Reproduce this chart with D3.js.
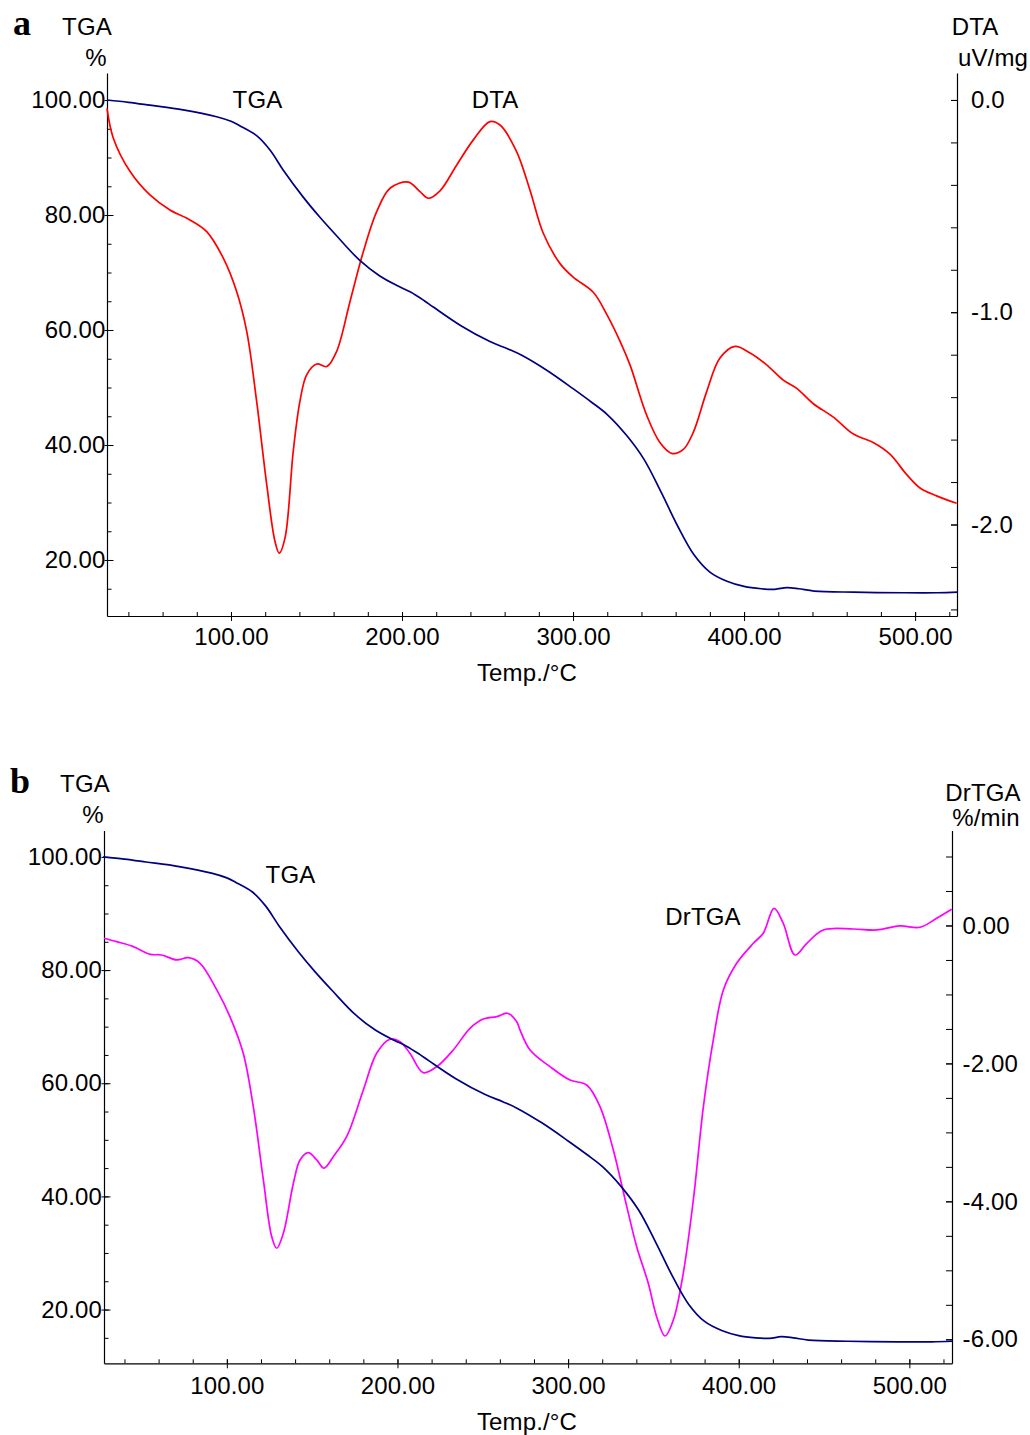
<!DOCTYPE html>
<html>
<head>
<meta charset="utf-8">
<script src="https://cdn.jsdelivr.net/npm/d3@7/dist/d3.min.js"></script>
<style>
  html, body { margin: 0; padding: 0; background: #fff; }
  svg { display: block; }
</style>
</head>
<body>
<svg id="chart" width="1030" height="1435"></svg>
<script>
// ---------- DATA ----------
// TGA curve (same sample, shown in both panels): temperature (°C) and mass (%)
const tgaTemp = [27.5, 40, 52.6, 72, 91.6, 100, 105.3, 115, 122.8, 130.6, 142, 152, 162, 175, 187, 198, 205, 213, 218.3, 234.2, 251.4, 262, 270, 284.6, 300, 311, 320, 331.5, 341.5, 351.5, 361, 370.5, 380, 390, 400, 410, 418, 425, 432, 441, 464, 493, 513, 525];
const tgaMass = [100.0, 99.6, 99.1, 98.3, 97.1, 96.3, 95.5, 93.8, 91.3, 87.8, 83.2, 79.6, 76.3, 72.2, 69.4, 67.6, 66.6, 65.1, 64.0, 60.8, 58.0, 56.7, 55.6, 53.0, 49.8, 47.4, 45.3, 41.6, 37.5, 31.8, 26.0, 21.0, 17.9, 16.3, 15.4, 15.0, 14.9, 15.2, 15.0, 14.6, 14.4, 14.3, 14.3, 14.4];

// DTA curve (panel a): temperature (°C) and signal (uV/mg)
const dtaTemp = [27.5, 31.2, 41.0, 52.6, 64.3, 76.0, 85.8, 95.5, 103.3, 109.2, 115.0, 120.9, 125.7, 128.2, 131.6, 136.4, 140.3, 144.3, 150.1, 156.0, 161.8, 169.6, 177.4, 185.2, 193.0, 203.7, 210.5, 215.4, 222.2, 232.0, 241.7, 251.4, 257.3, 267.0, 275.0, 282.6, 292.4, 300.1, 311.8, 319.7, 327.5, 333.3, 343.1, 350.8, 357.7, 364.5, 370.3, 378.1, 385.9, 394.7, 403.5, 413.2, 422.9, 430.8, 440.5, 452.2, 463.9, 475.5, 485.3, 495.1, 502.9, 512.6, 524.3];
const dtaValue = [-0.04, -0.18, -0.337, -0.447, -0.518, -0.565, -0.62, -0.745, -0.902, -1.09, -1.42, -1.812, -2.079, -2.135, -2.063, -1.655, -1.42, -1.294, -1.244, -1.256, -1.184, -0.949, -0.714, -0.526, -0.416, -0.387, -0.432, -0.463, -0.428, -0.306, -0.188, -0.102, -0.118, -0.243, -0.43, -0.628, -0.771, -0.835, -0.906, -1.01, -1.137, -1.248, -1.486, -1.614, -1.665, -1.646, -1.566, -1.375, -1.216, -1.161, -1.192, -1.248, -1.32, -1.359, -1.431, -1.494, -1.574, -1.614, -1.669, -1.765, -1.828, -1.865, -1.9];

// DrTGA curve (panel b): temperature (°C) and rate (%/min)
const drtgaTemp = [28.0, 35.4, 45.2, 55.0, 61.8, 70.6, 77.4, 84.3, 94.1, 101.8, 109.6, 115.5, 121.4, 126.3, 129.2, 133.1, 139.0, 142.9, 147.7, 152.7, 156.9, 162.4, 170.2, 180.0, 187.8, 195.6, 201.5, 207.3, 215.1, 223.0, 232.7, 242.5, 250.3, 258.2, 264.4, 269.9, 271.8, 277.7, 289.4, 301.1, 310.9, 318.7, 326.5, 334.4, 340.2, 347.0, 351.9, 356.8, 361.7, 367.5, 373.4, 379.3, 385.1, 391.0, 398.8, 408.6, 414.4, 420.7, 426.1, 433.0, 439.9, 449.6, 467.2, 480.9, 494.5, 506.3, 516.0, 524.8];
const drtgaValue = [-0.186, -0.235, -0.307, -0.418, -0.428, -0.5, -0.467, -0.548, -0.935, -1.322, -1.853, -2.627, -3.69, -4.512, -4.68, -4.463, -3.738, -3.4, -3.294, -3.4, -3.52, -3.352, -3.062, -2.385, -1.853, -1.65, -1.685, -1.853, -2.134, -2.047, -1.805, -1.491, -1.356, -1.322, -1.273, -1.395, -1.515, -1.805, -2.047, -2.241, -2.313, -2.627, -3.255, -4.077, -4.657, -5.188, -5.672, -5.952, -5.72, -5.043, -3.98, -2.627, -1.66, -0.935, -0.548, -0.258, -0.113, 0.249, 0.032, -0.428, -0.258, -0.065, -0.051, -0.065, -0.007, -0.026, 0.104, 0.235];

// Tick labels
const tempTickLabels = [100, 200, 300, 400, 500];
const massTickLabels = [20, 40, 60, 80, 100];
const dtaTickLabels = [0.0, -1.0, -2.0];
const drtgaTickLabels = [0, -2, -4, -6];

// ---------- DRAWING ----------
const svg = d3.select('#chart');
svg.append('rect').attr('width', 1030).attr('height', 1435).attr('fill', '#fff');
const FONT = '"Liberation Sans", Arial, Helvetica, sans-serif';
const FS = 24;
const LS = 0.15;

function zip(xs, ys) { return xs.map((t, i) => [t, ys[i]]); }
function fmt(spec) { const f = d3.format(spec); return d => f(d).replace('\u2212', '-'); }

function styleAxis(g) {
  g.attr('font-family', FONT).attr('font-size', FS);
  g.selectAll('path.domain').attr('stroke', '#000').attr('stroke-width', 1.2);
  g.selectAll('.tick line').attr('stroke', '#000').attr('stroke-width', 1);
  g.selectAll('.tick text').attr('fill', '#000').attr('letter-spacing', LS);
}

function drawPanel(cfg) {
  const g = svg.append('g');
  const x = d3.scaleLinear().domain(cfg.xDom).range([cfg.L, cfg.R]);
  const yL = d3.scaleLinear().domain(cfg.yLDom).range([cfg.B, cfg.T]);
  const yR = d3.scaleLinear().domain(cfg.yRDom).range([cfg.B, cfg.T]);

  // bottom axis: minor ticks
  g.append('g').attr('transform', `translate(0,${cfg.B})`)
    .call(d3.axisBottom(x).tickValues(d3.range(40, 521, 20)).tickSizeInner(-4).tickSizeOuter(0).tickFormat(''))
    .call(a => a.select('.domain').remove())
    .call(styleAxis);
  // bottom axis: major ticks + labels
  g.append('g').attr('transform', `translate(0,${cfg.B})`)
    .call(d3.axisBottom(x).tickValues(tempTickLabels).tickSizeInner(-4).tickSizeOuter(0).tickPadding(cfg.xPad).tickFormat(fmt('.2f')))
    .call(styleAxis)
    .call(a => a.selectAll('.tick line').attr('y1', 5));

  // left axis
  g.append('g').attr('transform', `translate(${cfg.L},0)`)
    .call(d3.axisLeft(yL).tickValues(d3.range(15, 101, 5)).tickSizeInner(-4.5).tickSizeOuter(0).tickFormat(''))
    .call(a => a.select('.domain').remove())
    .call(styleAxis);
  g.append('g').attr('transform', `translate(${cfg.L},0)`)
    .call(d3.axisLeft(yL).tickValues(massTickLabels).tickSizeInner(-6.5).tickSizeOuter(0).tickPadding(cfg.lPad).tickFormat(fmt('.2f')))
    .call(styleAxis)
    .call(a => a.selectAll('.tick line').attr('x1', -2.5));

  // right axis
  g.append('g').attr('transform', `translate(${cfg.R},0)`)
    .call(d3.axisRight(yR).tickValues(cfg.rMinor).tickSizeInner(-6).tickSizeOuter(0).tickFormat(''))
    .call(a => a.select('.domain').remove())
    .call(styleAxis);
  g.append('g').attr('transform', `translate(${cfg.R},0)`)
    .call(d3.axisRight(yR).tickValues(cfg.rLabels).tickSizeInner(-6).tickSizeOuter(0).tickPadding(cfg.rPad).tickFormat(fmt(cfg.rFmt)))
    .call(styleAxis);

  // curves
  const lineL = d3.line().x(d => x(d[0])).y(d => yL(d[1])).curve(d3.curveCatmullRom.alpha(0.5));
  const lineR = d3.line().x(d => x(d[0])).y(d => yR(d[1])).curve(d3.curveCatmullRom.alpha(0.5));
  g.append('path').datum(zip(cfg.rTemp, cfg.rVal)).attr('d', lineR)
    .attr('fill', 'none').attr('stroke', cfg.rColor).attr('stroke-width', 1.7);
  g.append('path').datum(zip(tgaTemp, tgaMass)).attr('d', lineL)
    .attr('fill', 'none').attr('stroke', '#000080').attr('stroke-width', 1.7);

  // texts
  const txt = (s, tx, ty, opts = {}) => g.append('text').text(s)
    .attr('x', tx).attr('y', ty)
    .attr('text-anchor', opts.anchor || 'middle')
    .attr('font-family', opts.family || FONT)
    .attr('font-size', opts.size || FS)
    .attr('font-weight', opts.weight || 'normal')
    .attr('letter-spacing', opts.ls !== undefined ? opts.ls : LS)
    .attr('fill', '#000');
  cfg.texts.forEach(t => txt(...t));
}

const serif = { anchor: 'start', family: '"Liberation Serif", "Times New Roman", serif', size: 36, weight: 'bold', ls: 0 };

drawPanel({
  L: 107, R: 957, T: 73, B: 616,
  xDom: [27.5, 524.5], yLDom: [10.26, 104.7], yRDom: [-2.431, 0.127],
  xPad: 12, lPad: 1.5, rPad: 14,
  rMinor: d3.range(-2.4, 0.01, 0.2), rLabels: dtaTickLabels, rFmt: '.1f',
  rTemp: dtaTemp, rVal: dtaValue, rColor: '#ff0000',
  texts: [
    ['a', 13, 35, serif],
    ['TGA', 87, 35], ['%', 96, 66],
    ['DTA', 975, 35], ['uV/mg', 993, 66],
    ['TGA', 257.5, 108], ['DTA', 495, 108],
    ['Temp./°C', 527, 681]
  ]
});

drawPanel({
  L: 104, R: 952, T: 830.5, B: 1363.3,
  xDom: [28, 525], yLDom: [10.5, 104.67], yRDom: [-6.348, 1.377],
  xPad: 13.5, lPad: 2, rPad: 10.5,
  rMinor: d3.range(-6, 1.01, 0.5), rLabels: drtgaTickLabels, rFmt: '.2f',
  rTemp: drtgaTemp, rVal: drtgaValue, rColor: '#ff00ff',
  texts: [
    ['b', 10, 793, serif],
    ['TGA', 85, 792], ['%', 93, 823],
    ['DrTGA', 983, 801], ['%/min', 986, 826],
    ['TGA', 290.5, 883], ['DrTGA', 703, 925],
    ['Temp./°C', 527, 1430]
  ]
});
</script>
</body>
</html>
